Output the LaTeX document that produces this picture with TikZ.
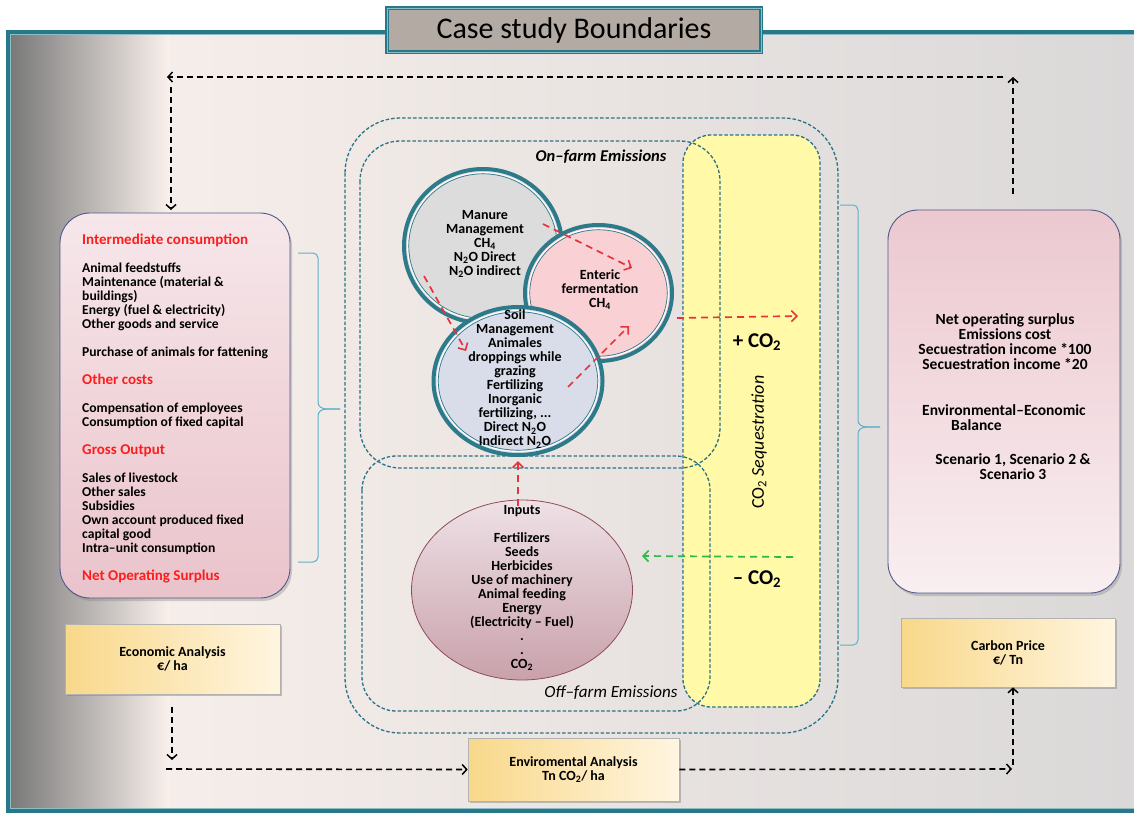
\documentclass[tikz,border=0pt]{standalone}
\usepackage{fontspec}
\setmainfont{Carlito}
\usetikzlibrary{arrows.meta,shadows,shapes.geometric}

\definecolor{frameteal}{HTML}{277889}
\definecolor{frameinner}{HTML}{8CBCC6}
\definecolor{bgwarm}{HTML}{FAF1EC}
\definecolor{bgcool}{HTML}{DAD8D8}
\definecolor{bgdark}{HTML}{777777}
\definecolor{bgmid}{HTML}{CEC2BB}
\definecolor{titlefill}{HTML}{B2AAA3}
\definecolor{boxedge}{HTML}{4E5A8A}
\definecolor{pinklight}{HTML}{F6E7EA}
\definecolor{pinkdeep}{HTML}{EAC3CB}
\definecolor{zoneteal}{HTML}{2A7287}
\definecolor{seqyellow}{HTML}{FFF9A8}
\definecolor{braceblue}{HTML}{5FB0C8}
\definecolor{ringteal}{HTML}{2D7A8B}
\definecolor{manurefill}{HTML}{DCDCDC}
\definecolor{entericfill}{HTML}{F9D1D5}
\definecolor{soilfill}{HTML}{D9DCE9}
\definecolor{inputtop}{HTML}{EEE1E6}
\definecolor{inputbottom}{HTML}{C9A1AB}
\definecolor{inputedge}{HTML}{8E4B5D}
\definecolor{emitred}{HTML}{E8323C}
\definecolor{sinkgreen}{HTML}{2EB84A}
\definecolor{headred}{HTML}{FF1C1C}
\definecolor{goldleft}{HTML}{F8D88A}
\definecolor{goldright}{HTML}{FFF5E0}

\newcommand{\subtwo}{\textsubscript{2}}
\newcommand{\subfour}{\textsubscript{4}}

\begin{document}
\begin{tikzpicture}[x=1pt,y=-1pt,
  zone/.style={draw=zoneteal, line width=1.3pt, dash pattern=on 3.5pt off 2pt},
  flow/.style={black, line width=1.6pt, dash pattern=on 6pt off 4pt,
    -{Straight Barb[length=4.5pt,width=10pt,line width=1.5pt]}},
  emit/.style={emitred, line width=1.7pt, dash pattern=on 7pt off 5pt,
    -{Straight Barb[length=5.5pt,width=11pt,line width=1.6pt]}},
  sink/.style={sinkgreen, line width=1.7pt, dash pattern=on 7pt off 5pt,
    -{Straight Barb[length=5.5pt,width=11pt,line width=1.6pt]}},
  cardbox/.style={rectangle, rounded corners=30pt, draw=boxedge, line width=0.9pt,
    drop shadow={opacity=0.35, shadow xshift=2pt, shadow yshift=-3pt}},
  goldbox/.style={rectangle, draw=gray!60, line width=0.6pt, left color=goldleft,
    right color=goldright, align=center,
    font=\bfseries\fontsize{14}{14}\selectfont,
    drop shadow={opacity=0.45, shadow xshift=1.5pt, shadow yshift=-2pt}},
  ring/.style={ellipse, draw=ringteal, line width=4pt, inner sep=0pt},
  ringtext/.style={align=center, font=\bfseries\fontsize{14}{14}\selectfont},
  bracket/.style={braceblue, line width=1pt},
]
\useasboundingbox (0,0) rectangle (1134,817);

% page frame with its graded background
\shade[left color=bgwarm, right color=bgcool] (8,32) rectangle (1140,811);
\shade[left color=bgdark, middle color=bgmid, right color=bgwarm] (8,32) rectangle (170,811);
\draw[frameteal, line width=4pt] (8,32) rectangle (1140,811);
\draw[frameinner, line width=0.8pt] (10.8,34.8) rectangle (1140,808.2);

% title tab
\node[rectangle, fill=titlefill, draw=frameteal, double=frameinner, double distance=0.9pt,
  line width=1.4pt, minimum width=374pt, minimum height=44pt,
  font=\fontsize{30}{32}\selectfont] (title) at (574,30) {Case study Boundaries};

% economic data card
\node[cardbox, top color=pinklight, bottom color=pinkdeep,
  minimum width=230pt, minimum height=385pt] (costs) at (175,405.5) {};
\newcommand{\headfont}{\color{headred}\fontsize{15}{14}\selectfont}
\node[anchor=north west, inner sep=0pt, align=left,
  font=\bfseries\fontsize{13.6}{14}\selectfont] (costtext) at (82,233.5)
  {{\headfont Intermediate consumption}\\[14pt]
   Animal feedstuffs\\
   Maintenance (material \&\\
   buildings)\\
   Energy (fuel \& electricity)\\
   Other goods and service\\[14pt]
   Purchase of animals for fattening\\[14pt]
   {\headfont Other costs}\\[14pt]
   Compensation of employees\\
   Consumption of fixed capital\\[14pt]
   {\headfont Gross Output}\\[14pt]
   Sales of livestock\\
   Other sales\\
   Subsidies\\
   Own account produced fixed\\
   capital good\\
   Intra–unit consumption\\[14pt]
   {\headfont Net Operating Surplus}};

% balance card
\node[cardbox, top color=pinkdeep!85!pinklight, bottom color=pinklight!70!white,
  minimum width=232pt, minimum height=383pt] (balance) at (1004,401.5) {};
\node[align=center, font=\bfseries\fontsize{15.5}{15}\selectfont] (baltext) at (1005,342)
  {Net operating surplus\\Emissions cost\\Secuestration income *100\\Secuestration income *20};
\node[anchor=north west, inner sep=0pt, align=left,
  font=\bfseries\fontsize{15.5}{15}\selectfont] (envecon) at (922,404)
  {Environmental–Economic\\\hspace*{29pt}Balance};
\node[align=center, font=\bfseries\fontsize{15.5}{15}\selectfont] (scen) at (1013,467)
  {Scenario 1, Scenario 2 \&\\Scenario 3};

% braces
\draw[bracket] (298,253) -- (313,253) to[out=0,in=90] (318,258) -- (318,402)
  to[out=-90,in=180] (340,409);
\draw[bracket] (298,562) -- (313,562) to[out=0,in=-90] (318,557) -- (318,416)
  to[out=90,in=180] (340,409);
\draw[bracket] (840,205) -- (853,205) to[out=0,in=90] (858,210) -- (858,420)
  to[out=-90,in=180] (880,427);
\draw[bracket] (840,645) -- (853,645) to[out=0,in=-90] (858,640) -- (858,434)
  to[out=90,in=180] (880,427);

% emission zones
\fill[seqyellow, rounded corners=28pt] (683,135) rectangle (820,707);
\draw[zone, rounded corners=55pt] (345,118) rectangle (838,733);
\draw[zone, rounded corners=40pt] (360,141) rectangle (720,468);
\draw[zone, rounded corners=34pt] (362,456) rectangle (710,711);
\draw[zone, rounded corners=28pt] (683,135) rectangle (820,707);

\node[font=\bfseries\itshape\fontsize{16.5}{16}\selectfont] (onfarm) at (601,157) {On–farm Emissions};
\node[font=\itshape\fontsize{17}{16}\selectfont] (offfarm) at (611,693) {Off–farm Emissions};

% emission sources
\node[ring, fill=manurefill, minimum width=158pt, minimum height=154pt] (manure) at (483,246) {};
\draw[white, line width=1.1pt] (manure.center) ellipse [x radius=75.4pt, y radius=73.4pt];
\draw[ringteal, line width=0.7pt] (manure.center) ellipse [x radius=74.2pt, y radius=72.2pt];
\node[ringtext] (manuretext) at (485,244)
  {Manure\\Management\\CH\subfour\\N\subtwo O Direct\\N\subtwo O indirect};

\node[ring, fill=entericfill, minimum width=147pt, minimum height=136pt] (enteric) at (598.5,293) {};
\draw[white, line width=1.1pt] (enteric.center) ellipse [x radius=69.9pt, y radius=64.4pt];
\draw[ringteal, line width=0.7pt] (enteric.center) ellipse [x radius=68.7pt, y radius=63.2pt];
\node[ringtext] (enterictext) at (600,290) {Enteric\\fermentation\\CH\subfour};

\node[ring, fill=soilfill, minimum width=169pt, minimum height=148pt] (soil) at (518,381) {};
\draw[white, line width=1.1pt] (soil.center) ellipse [x radius=80.9pt, y radius=70.4pt];
\draw[ringteal, line width=0.7pt] (soil.center) ellipse [x radius=79.7pt, y radius=69.2pt];
\node[ringtext] (soiltext) at (515,379)
  {Soil\\Management\\Animales\\droppings while\\grazing\\Fertilizing\\Inorganic\\fertilizing, ...\\Direct N\subtwo O\\Indirect N\subtwo O};

% off-farm inputs
\node[ellipse, draw=inputedge, line width=0.8pt, top color=inputtop, bottom color=inputbottom,
  minimum width=221pt, minimum height=180pt] (inputs) at (522,590) {};
\node[ringtext] (inputtext) at (522,588)
  {Inputs\\[14pt]Fertilizers\\Seeds\\Herbicides\\Use of machinery\\Animal feeding\\Energy\\(Electricity – Fuel)\\.\\.\\CO\subtwo};

% sequestration labels
\node[font=\bfseries\fontsize{21}{22}\selectfont] (plusco) at (757,342) {+ CO\subtwo};
\node[font=\bfseries\fontsize{21}{22}\selectfont] (minusco) at (757,579) {– CO\subtwo};
\node[rotate=90, font=\fontsize{18}{18}\selectfont] (seq) at (759,442) {CO\subtwo\ \textit{Sequestration}};

% flows between sources
\coordinate (m2e-a) at (543,224);
\coordinate (m2e-b) at (632,268);
\coordinate (m2s-a) at (424,276);
\coordinate (m2s-b) at (466,351);
\coordinate (s2e-a) at (568,387);
\coordinate (s2e-b) at (629,326);
\coordinate (out-a) at (677,318);
\coordinate (out-b) at (798,316);
\coordinate (in-a) at (518,506);
\coordinate (in-b) at (518,461);
\coordinate (sink-a) at (793,557);
\coordinate (sink-b) at (642,556);
\draw[emit] (m2e-a) -- (m2e-b);
\draw[emit] (m2s-a) -- (m2s-b);
\draw[emit] (s2e-a) -- (s2e-b);
\draw[emit] (out-a) -- (out-b);
\draw[emit] (in-a) -- (in-b);
\draw[sink] (sink-a) -- (sink-b);

% analysis boxes
\node[goldbox, minimum width=215pt, minimum height=70pt] (econ) at (172.5,659)
  {Economic Analysis\\€/ ha};
\node[goldbox, minimum width=214pt, minimum height=69pt] (carbon) at (1008,652.5)
  {Carbon Price\\€/ Tn};
\node[goldbox, minimum width=211pt, minimum height=63pt] (envir) at (573.5,769.5)
  {Enviromental Analysis\\Tn CO\subtwo/ ha};

% analysis loop
\coordinate (top-r) at (1013,77);
\coordinate (top-l) at (171,77);
\coordinate (low-l) at (172,769);
\coordinate (low-r) at (1013,769);
\draw[flow] (1013,194) -- (top-r);
\draw[flow] (1003,77) -- (167,77);
\draw[flow] (171,87) -- (171,210);
\draw[flow] (172,707) -- (172,760);
\draw[flow] (166,769) -- (envir.west);
\draw[flow] (envir.east) -- (1012,769);
\draw[flow] (1013,765) -- (carbon.south -| low-r);
\end{tikzpicture}
\end{document}
